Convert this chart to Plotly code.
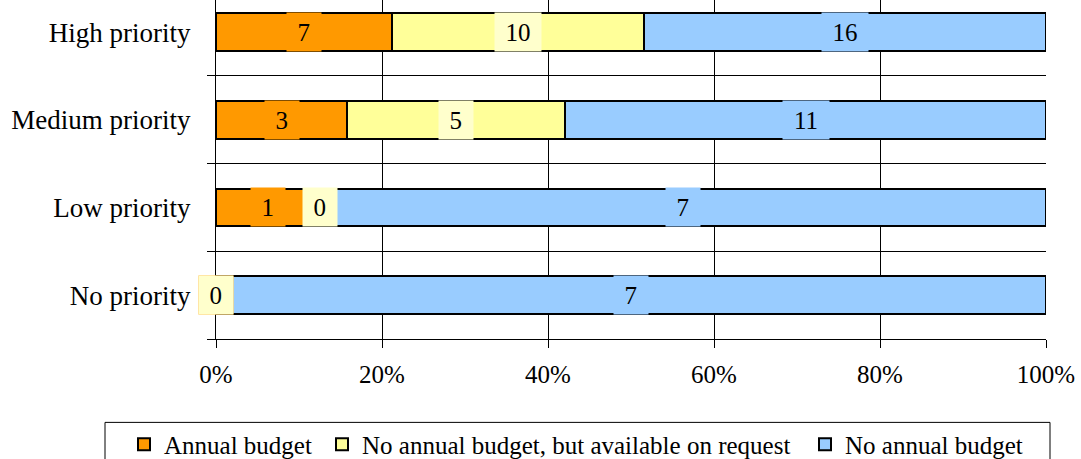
import plotly.graph_objects as go

categories = ["No priority", "Low priority", "Medium priority", "High priority"]
series_names = ["Annual budget", "No annual budget, but available on request", "No annual budget"]
annual = [0, 1, 3, 7]
on_request = [0, 0, 5, 10]
no_budget = [7, 7, 11, 16]
x_ticks = [0, 20, 40, 60, 80, 100]
x_tick_labels = ["0%", "20%", "40%", "60%", "80%", "100%"]

bar_colors = ["#FF9900", "#FFFF99", "#99CCFF"]
label_bg = ["#FF9900", "#FFFFCC", "#99CCFF"]
FONT = "Liberation Serif"
FS = 25

values = [annual, on_request, no_budget]
totals = [sum(v[i] for v in values) for i in range(len(categories))]
pct = [[v[i] / totals[i] * 100 for i in range(len(categories))] for v in values]

fig = go.Figure()
legend_names = ["legend", "legend2", "legend3"]
for s in range(3):
    fig.add_trace(go.Bar(
        y=categories, x=pct[s], name=series_names[s], orientation="h",
        marker=dict(color=bar_colors[s], line=dict(color="black", width=2)),
        width=0.43, legend=legend_names[s], hoverinfo="skip",
    ))

# invisible trace for overlay axes
fig.add_trace(go.Scatter(x=[None], y=[None], xaxis="x2", yaxis="y2",
                         showlegend=False, hoverinfo="skip"))

annotations = []
for i, c in enumerate(categories):
    start = 0
    for s in range(3):
        w = pct[s][i]
        txt = str(values[s][i])
        annotations.append(dict(
            x=start + w / 2, y=c, xref="x", yref="y", text=txt, showarrow=False,
            font=dict(family=FONT, size=FS, color="black"),
            bgcolor=label_bg[s], borderpad=0, width=12.5 * len(txt) + 21, height=38,
        ))
        start += w

fig.update_layout(
    width=1081, height=459,
    margin=dict(l=216, r=35, t=0, b=119.5, autoexpand=False),
    plot_bgcolor="white", paper_bgcolor="white",
    barmode="stack", bargap=0.57,
    font=dict(family=FONT, size=FS, color="black"),
    annotations=annotations,
    xaxis=dict(range=[0, 100], tickvals=x_ticks, ticktext=x_tick_labels, showgrid=False,
               showline=True, linecolor="black", linewidth=1, ticks="outside",
               ticklen=8, tickcolor="black", zeroline=False, ticklabelstandoff=5,
               tickfont=dict(family=FONT, size=FS)),
    xaxis2=dict(overlaying="x", range=[0, 100], tickvals=[20, 40, 60, 80],
                showgrid=True, gridcolor="black", gridwidth=1, showticklabels=False,
                ticks="", showline=False, zeroline=False, anchor="y"),
    yaxis=dict(type="category", categoryorder="array", categoryarray=categories,
               range=[-0.5, 3.366], showgrid=False, showline=True, linecolor="black",
               linewidth=1, ticks="", ticklabelstandoff=19,
               tickfont=dict(family=FONT, size=27)),
    yaxis2=dict(overlaying="y", range=[-0.5, 3.366], tickvals=[-0.5, 0.5, 1.5, 2.5],
                showgrid=True, gridcolor="black", gridwidth=1, showticklabels=False,
                ticks="outside", ticklen=8, tickcolor="black", showline=False,
                zeroline=False, anchor="x", side="left"),
    shapes=[dict(type="rect", xref="paper", yref="paper",
                 x0=(105 - 216) / 830, x1=(1050 - 216) / 830,
                 y0=(339.5 - 423) / 339.5, y1=-0.5,
                 line=dict(color="black", width=1), fillcolor="rgba(0,0,0,0)", layer="above")],
)

legend_px = [124, 322, 805]
for s, name in enumerate(legend_names):
    fig.update_layout({name: dict(
        x=(legend_px[s] - 216) / 830, xanchor="left",
        y=(339.5 - 422) / 339.5, yanchor="top",
        orientation="h", bgcolor="rgba(0,0,0,0)", borderwidth=0,
        font=dict(family=FONT, size=FS, color="black"),
    )})

fig.write_html("out.html")
